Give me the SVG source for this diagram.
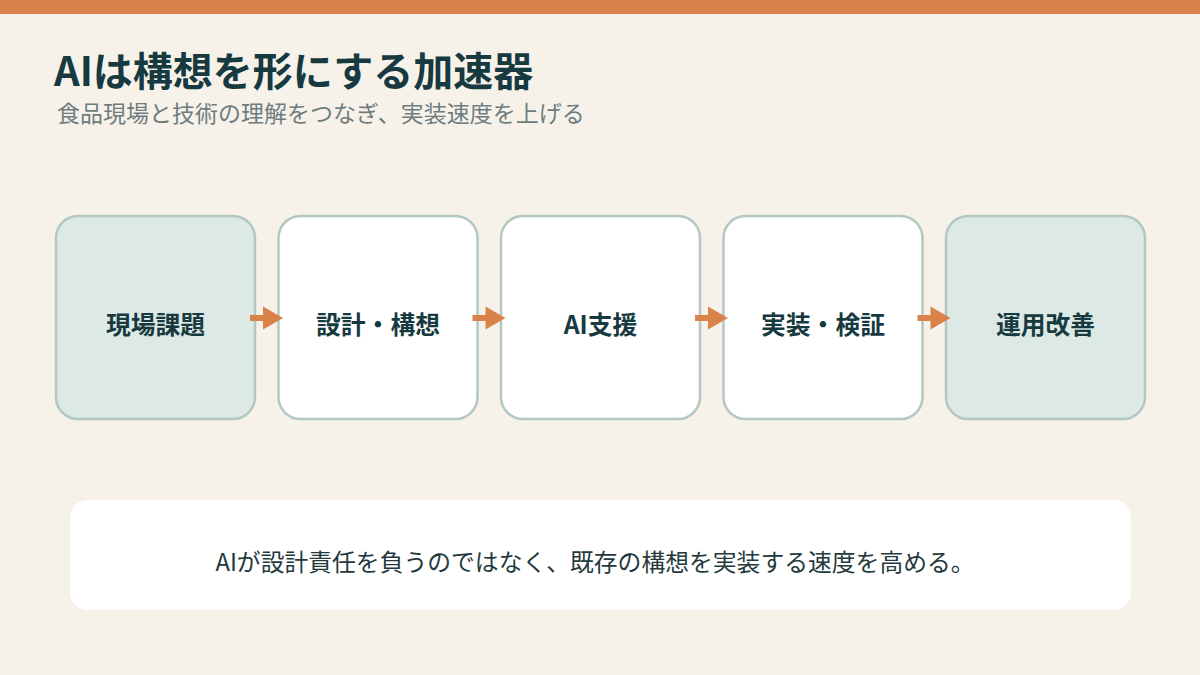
<svg xmlns="http://www.w3.org/2000/svg" width="1200" height="675" viewBox="0 0 1200 675">
<defs>
<style>
text{font-family:"Noto Sans CJK JP","Noto Sans",sans-serif}
.node rect{stroke:#B3C8C0;stroke-width:2.5}
.accent{fill:#DCE9E5}
.plain{fill:#FFFFFF}
.label{font-size:24.8px;font-weight:700;fill:#173A40;text-anchor:middle}
.conn line{stroke:#D9834A;stroke-width:6}
.conn polygon{fill:#D9834A}
</style>
</defs>
<rect x="0" y="0" width="1200" height="675" fill="#F6F2EA"/>
<rect x="0" y="0" width="1200" height="14" fill="#D9834A"/>
<text x="54" y="86" font-size="40" font-weight="700" fill="#173A40">AIは構想を形にする加速器</text>
<text x="57" y="122" font-size="23" fill="#6E7C7F">食品現場と技術の理解をつなぎ、実装速度を上げる</text>
<g id="node1" class="node"><rect class="accent" x="56" y="216" width="199" height="203" rx="22"/><text class="label" x="155.5" y="334">現場課題</text></g>
<g id="node2" class="node"><rect class="plain" x="278.5" y="216" width="199" height="203" rx="22"/><text class="label" x="378" y="334">設計・構想</text></g>
<g id="node3" class="node"><rect class="plain" x="501" y="216" width="199" height="203" rx="22"/><text class="label" x="600.5" y="334">AI支援</text></g>
<g id="node4" class="node"><rect class="plain" x="723.5" y="216" width="199" height="203" rx="22"/><text class="label" x="823" y="334">実装・検証</text></g>
<g id="node5" class="node"><rect class="accent" x="946" y="216" width="199" height="203" rx="22"/><text class="label" x="1045.5" y="334">運用改善</text></g>
<g id="connectors" class="conn">
<line x1="250" y1="318" x2="265" y2="318"/><polygon points="263,306.5 283,318 263,329.5"/>
<line x1="472.5" y1="318" x2="487.5" y2="318"/><polygon points="485.5,306.5 505.5,318 485.5,329.5"/>
<line x1="695" y1="318" x2="710" y2="318"/><polygon points="708,306.5 728,318 708,329.5"/>
<line x1="917.5" y1="318" x2="932.5" y2="318"/><polygon points="930.5,306.5 950.5,318 930.5,329.5"/>
</g>
<g id="note">
<rect x="70" y="500" width="1061" height="110" rx="18" fill="#FFFFFF"/>
<text x="595" y="571" font-size="23.8" fill="#24393D" text-anchor="middle">AIが設計責任を負うのではなく、既存の構想を実装する速度を高める。</text>
</g>
</svg>
